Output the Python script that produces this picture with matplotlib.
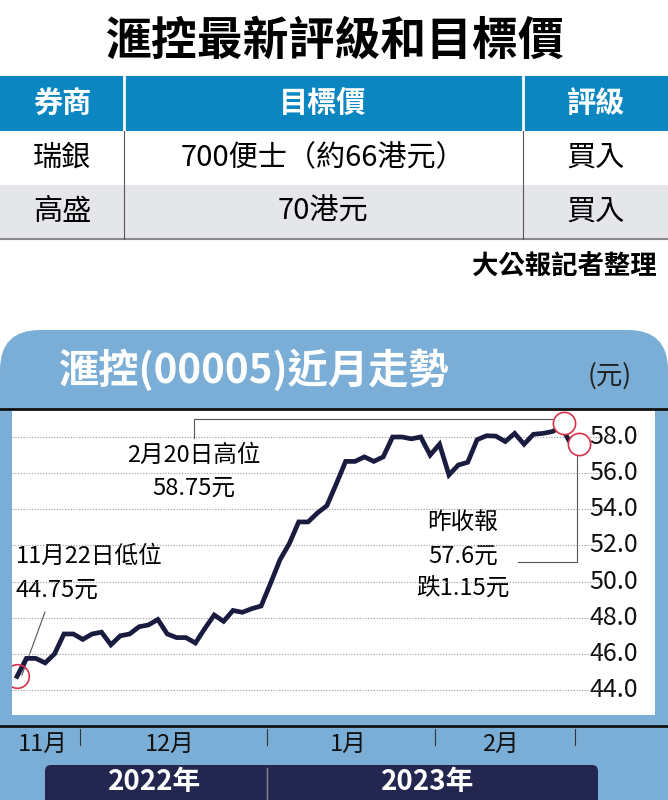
import numpy as np
import matplotlib
matplotlib.use("Agg")
import matplotlib.pyplot as plt
from matplotlib.patches import FancyBboxPatch, Rectangle

plt.rcParams["font.family"] = ["Noto Sans CJK TC", "DejaVu Sans"]

# table data
table_header = ["券商", "目標價", "評級"]
table_rows = [["瑞銀", "700便士（約66港元）", "買入"],
              ["高盛", "70港元", "買入"]]

# price series (HKD), 22 Nov 2022 -> 21 Feb 2023
prices = [44.75, 45.75, 45.75, 45.5, 46.0, 47.1, 47.1, 46.8, 47.1, 47.2,
          46.5, 47.0, 47.1, 47.5, 47.6, 47.9, 47.1, 46.9, 46.9, 46.6,
          47.4, 48.15, 47.8, 48.4, 48.3, 48.5, 48.65, 49.9, 51.2, 52.1,
          53.3, 53.3, 53.8, 54.2, 55.4, 56.65, 56.65, 56.9, 56.65, 56.9,
          58.0, 58.0, 57.9, 58.0, 57.0, 57.6, 55.9, 56.45, 56.6, 57.85,
          58.07, 58.05, 57.75, 58.2, 57.6, 58.15, 58.2, 58.3, 58.55, 57.6]
y_ticks = [44.0, 46.0, 48.0, 50.0, 52.0, 54.0, 56.0, 58.0]
month_labels = ["11月", "12月", "1月", "2月"]
year_labels = ["2022年", "2023年"]
high_price = 58.75
close_price = 57.6

W, H = 668, 800
fig = plt.figure(figsize=(W / 100, H / 100), dpi=100)
ov = fig.add_axes([0, 0, 1, 1])
ov.set_xlim(0, W)
ov.set_ylim(H, 0)
ov.axis("off")

blue = "#0b86c1"
panel = "#7aaed6"
navy = "#23264f"

# title + table
ov.text(W / 2, 42, "滙控最新評級和目標價", ha="center", va="center",
        fontsize=33, fontweight="bold", color="black")
ov.add_patch(Rectangle((0, 76), W, 55, color=blue, lw=0))
ov.add_patch(Rectangle((0, 185), W, 54, color="#e4e6ea", lw=0))
ov.plot([0, W], [239, 239], color="#888888", lw=1.5)
for xs in (124, 523):
    ov.plot([xs, xs], [76, 131], color="white", lw=2)
    ov.plot([xs, xs], [131, 239], color="#555555", lw=0.8)
col_x = [62, 323, 596]
for i, h in enumerate(table_header):
    ov.text(col_x[i], 103, h, ha="center", va="center", fontsize=21,
            fontweight="bold", color="white")
for r, row in enumerate(table_rows):
    for i, c in enumerate(row):
        ov.text(col_x[i], 158 + r * 54, c, ha="center", va="center",
                fontsize=21, color="black")
ov.text(657, 267, "大公報記者整理", ha="right", va="center", fontsize=19,
        fontweight="bold", color="black")

# chart panel
ov.add_patch(FancyBboxPatch((0, 330), W, 520, boxstyle="round,pad=0,rounding_size=40",
                            color=panel, lw=0))
ov.text(58, 371, "滙控(00005)近月走勢", ha="left", va="center", fontsize=29,
        fontweight="bold", color="white")
ov.text(610, 376, "(元)", ha="center", va="center", fontsize=19, color="#222222")
ov.add_patch(Rectangle((12, 410), 643, 305, color="white", lw=0))
ov.plot([0, W], [409, 409], color="#111111", lw=2)
ov.plot([0, W], [726, 726], color="#111111", lw=2)
for lab, xm in zip(month_labels, [43, 170, 348, 500]):
    ov.text(xm, 744, lab, ha="center", va="center", fontsize=17, color="#111111")
for xt in (80, 267, 435, 575):
    ov.plot([xt, xt], [729, 745], color="#333333", lw=0.8)
ov.add_patch(FancyBboxPatch((45, 765), 553, 45, boxstyle="round,pad=0,rounding_size=6",
                            color=navy, lw=0))
ov.plot([267, 267], [768, 800], color="#888888", lw=1)
ov.text(155, 782, year_labels[0], ha="center", va="center", fontsize=20,
        fontweight="bold", color="white")
ov.text(428, 782, year_labels[1], ha="center", va="center", fontsize=20,
        fontweight="bold", color="white")

# data axes, placed over the white area
left, right, top, bottom = 12, 600, 410, 715
ax = fig.add_axes([left / W, 1 - bottom / H, (right - left) / W, (bottom - top) / H])
ax.patch.set_alpha(0)
n = len(prices)
x = np.arange(n)
px_per = (571 - 17) / (n - 1)
ax.set_xlim(-(17 - left) / px_per, (n - 1) + (right - 571) / px_per)
ax.set_ylim(44 - (715 - 690) / 18.07, 58 + (437 - 410) / 18.07)
for s in ax.spines.values():
    s.set_visible(False)
ax.set_xticks([])
ax.set_yticks([])
for yt in y_ticks:
    ax.axhline(yt, color="#999999", lw=0.8, ls=(0, (1, 1.5)), zorder=1)
ax.plot(x, prices, color="#1a1c3f", lw=3.4, zorder=3, solid_joinstyle="miter")

# tick labels
for yt in y_ticks:
    yp = 690 - (yt - 44) * 18.07
    ov.text(614, yp, f"{yt:.1f}", ha="center", va="center", fontsize=18, color="#111111")

# markers and callouts
ax.plot([x[-2] + 0.3], [high_price], "o", ms=16, mfc="white", mec="#d6334a", mew=1.2, zorder=4)
ax.plot([x[-1] + 0.8], [close_price], "o", ms=16, mfc="white", mec="#d6334a", mew=1.2, zorder=4)
ax.plot([x[0]], [prices[0]], "o", ms=17, mfc="none", mec="#d6334a", mew=1.2, zorder=4)
ov.plot([194, 194, 554], [438, 419, 419], color="#555555", lw=0.8)
ov.plot([577, 577, 518], [452, 562, 562], color="#555555", lw=0.8)
ov.plot([45, 22], [612, 675], color="#555555", lw=0.8)
ov.text(194, 455, "2月20日高位", ha="center", va="center", fontsize=17)
ov.text(194, 488, "58.75元", ha="center", va="center", fontsize=17)
ov.text(463, 522, "昨收報", ha="center", va="center", fontsize=17)
ov.text(463, 556, "57.6元", ha="center", va="center", fontsize=17)
ov.text(463, 589, "跌1.15元", ha="center", va="center", fontsize=17)
ov.text(16, 556, "11月22日低位", ha="left", va="center", fontsize=17)
ov.text(16, 590, "44.75元", ha="left", va="center", fontsize=17)

fig.savefig("out.png", dpi=100)
